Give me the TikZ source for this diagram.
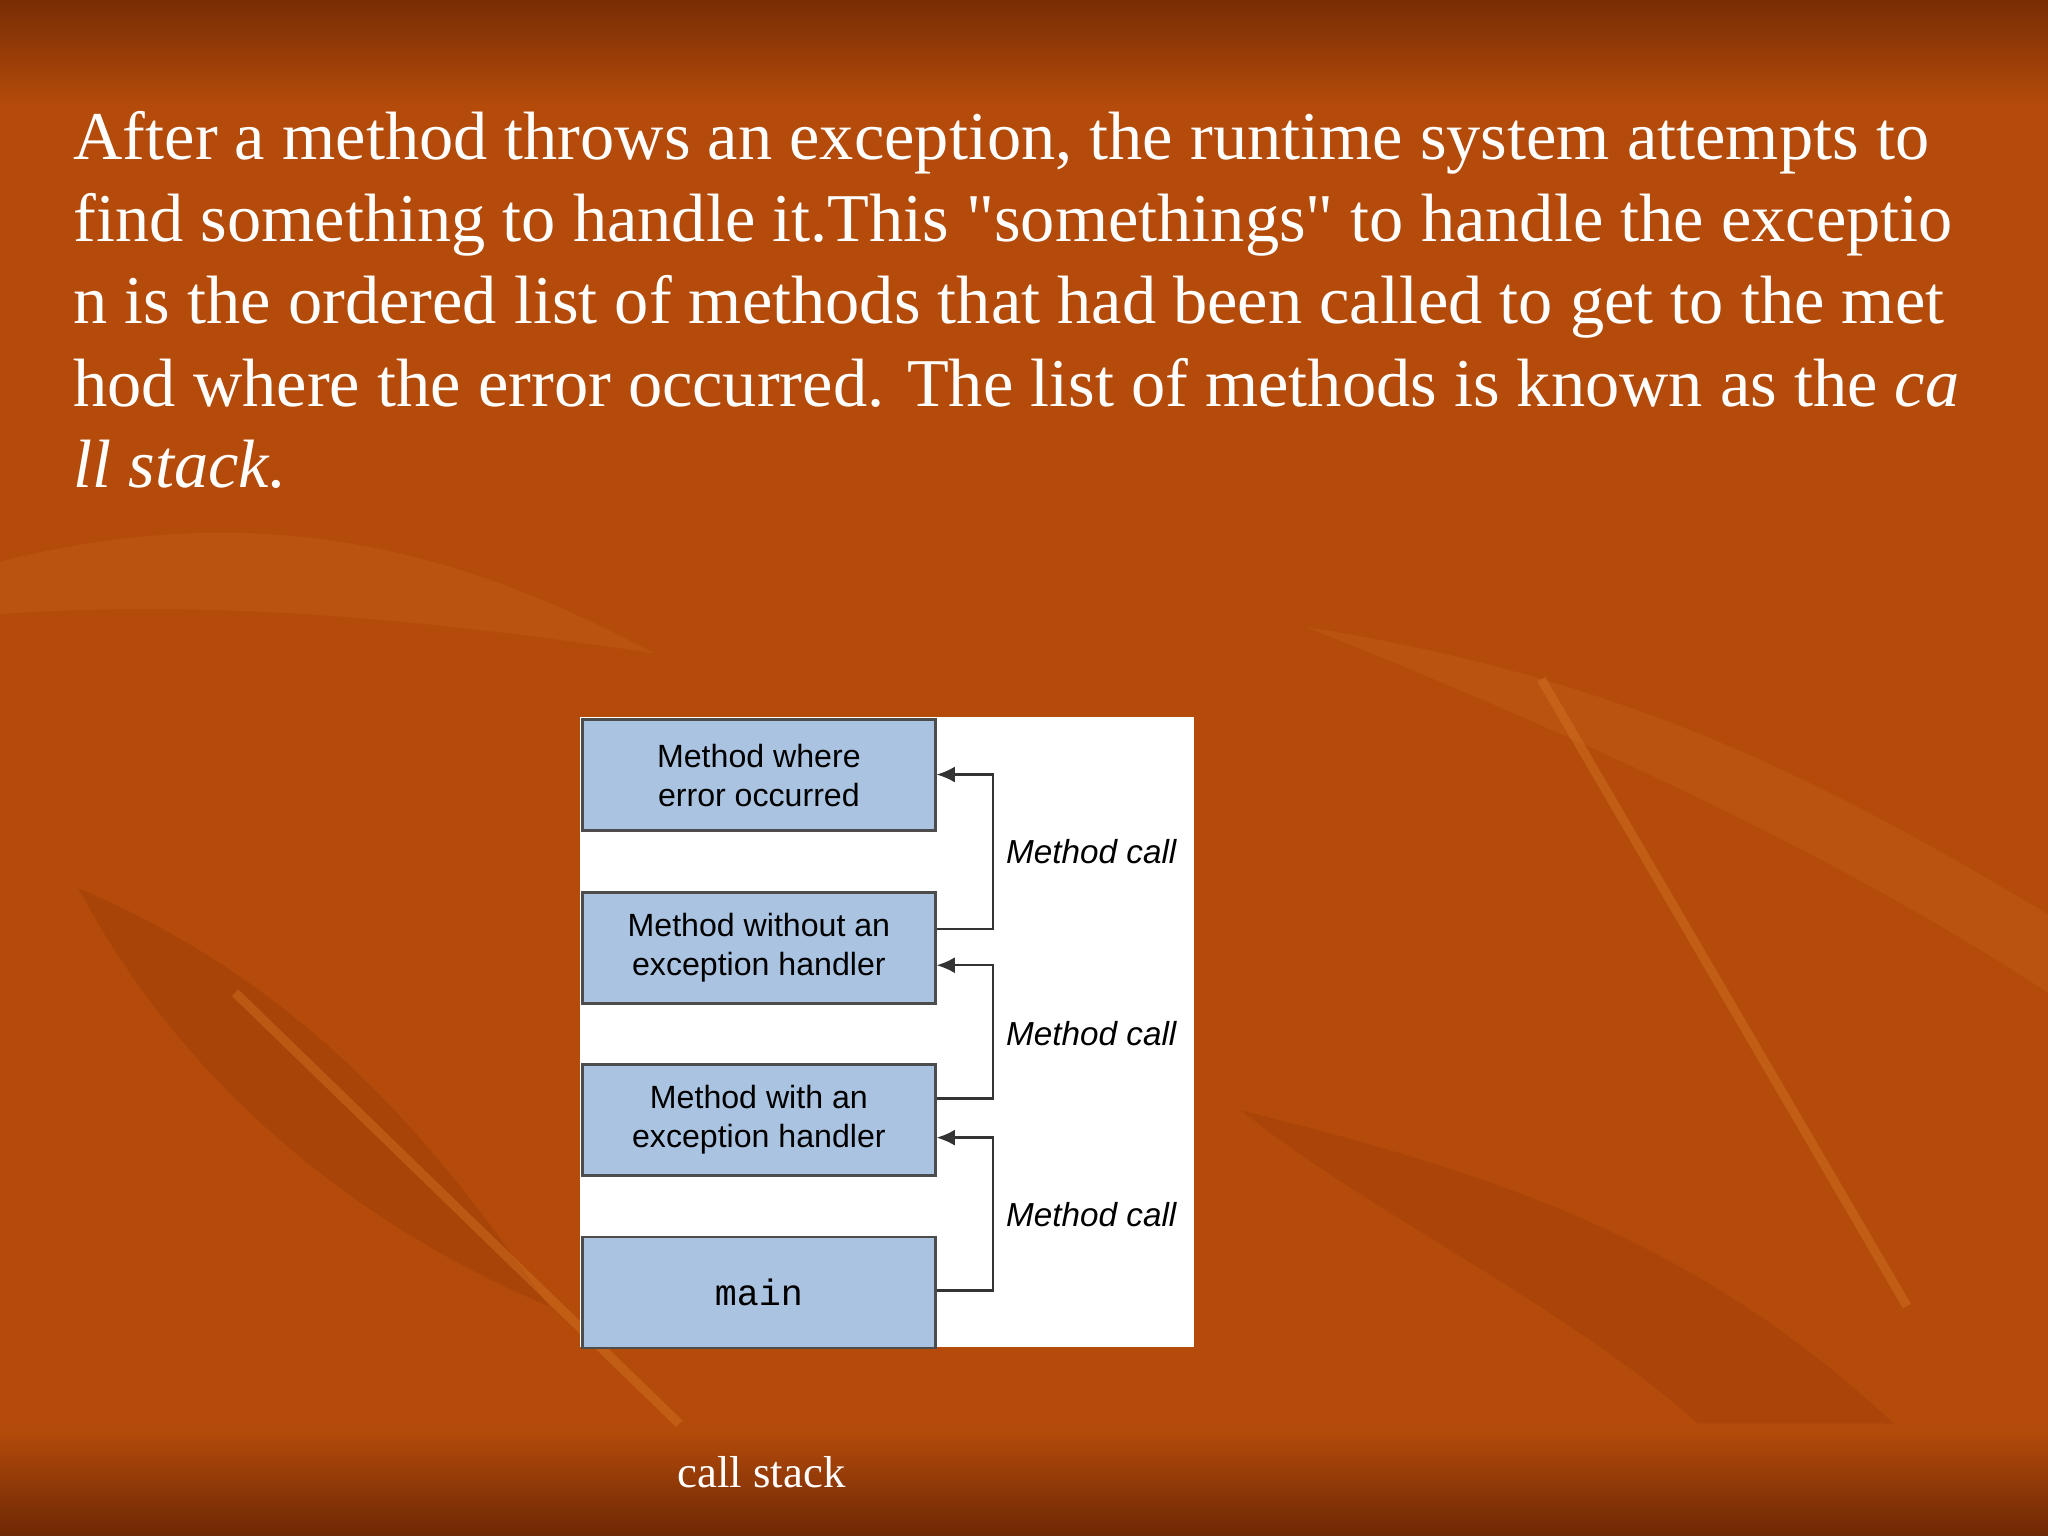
\documentclass[tikz,border=0pt]{standalone}
\usepackage{fontspec}
\usetikzlibrary{arrows.meta}
\setmainfont{Liberation Serif}[Ligatures=TeXOff]
\setsansfont{Liberation Sans}
\setmonofont{Liberation Mono}
\definecolor{topdark}{RGB}{120,45,5}
\definecolor{bgor}{RGB}{180,75,10}
\definecolor{botdark}{RGB}{110,40,5}
\definecolor{leafl}{RGB}{200,100,30}
\definecolor{leafd}{RGB}{150,55,5}
\definecolor{vein}{RGB}{215,120,40}
\definecolor{boxblue}{RGB}{170,195,225}
\begin{document}
\begin{tikzpicture}[x=0.02cm,y=-0.02cm,
  para/.style={anchor=base west,text=white,font=\fontsize{29.8}{34}\selectfont,inner sep=0},
  mbox/.style={draw=black!70,line width=1.2pt,fill=boxblue,minimum width=5.4cm,minimum height=1.7cm,anchor=north west,align=center,font=\sffamily\fontsize{14}{17}\selectfont,inner sep=0},
  carrow/.style={draw=black!80,line width=1pt,-{Latex[length=8pt,width=7pt]}},
  lbl/.style={anchor=west,font=\sffamily\itshape\fontsize{14.5}{16}\selectfont,inner sep=0}]
\useasboundingbox (0,0) rectangle (1568,1176);
\shade[top color=topdark,bottom color=bgor] (0,0) rectangle (1568,80);
\fill[bgor] (0,80) rectangle (1568,1095);
\shade[top color=bgor,bottom color=botdark] (0,1095) rectangle (1568,1176);
\fill[leafl,opacity=0.35] (0,430) .. controls (200,380) and (350,420) .. (500,500) .. controls (300,470) and (150,460) .. (0,470) -- cycle;
\fill[leafl,opacity=0.3] (1000,480) .. controls (1250,520) and (1400,600) .. (1568,700) -- (1568,760) .. controls (1400,650) and (1200,560) .. (1000,480) -- cycle;
\fill[leafd,opacity=0.35] (60,680) .. controls (250,760) and (350,900) .. (420,1000) .. controls (300,950) and (150,850) .. (60,680) -- cycle;
\fill[leafd,opacity=0.3] (950,850) .. controls (1150,900) and (1300,950) .. (1450,1090) -- (1300,1090) .. controls (1200,1000) and (1050,930) .. (950,850) -- cycle;
\draw[vein,opacity=0.4,line width=4pt] (180,760) -- (520,1090);
\draw[vein,opacity=0.4,line width=4pt] (1180,520) -- (1460,1000);
\node[para] (l1) at (56,122) {After a method throws an exception, the runtime system attempts to};
\node[para] (l2) at (56,185) {find something to handle it.This "somethings" to handle the exceptio};
\node[para] (l3) at (56,248) {n is the ordered list of methods that had been called to get to the met};
\node[para] (l4) at (56,311) {hod where the error occurred. The list of methods is known as the \textit{ca}};
\node[para] (l5) at (56,373) {\textit{ll stack.}};
\fill[white] (444,549) rectangle (914,1031);
\node[mbox] (b1) at (445,550) {Method where\\error occurred};
\node[mbox] (b2) at (445,682) {Method without an\\exception handler};
\node[mbox] (b3) at (445,814) {Method with an\\exception handler};
\node[mbox,font=\ttfamily\fontsize{16}{17}\selectfont] (b4) at (445,946) {main};
\coordinate (v) at (760,0);
\coordinate (s1) at (0,711); \coordinate (t1) at (0,593);
\coordinate (s2) at (0,841); \coordinate (t2) at (0,739);
\coordinate (s3) at (0,988); \coordinate (t3) at (0,871);
\draw[carrow] (b2.east |- s1) -- (v |- s1) -- (v |- t1) -- (b1.east |- t1);
\draw[carrow] (b3.east |- s2) -- (v |- s2) -- (v |- t2) -- (b2.east |- t2);
\draw[carrow] (b4.east |- s3) -- (v |- s3) -- (v |- t3) -- (b3.east |- t3);
\begin{scope}
\clip (444,549) rectangle (914,1031);
\node[lbl] (m1) at (770,652) {Method call};
\node[lbl] (m2) at (770,791) {Method call};
\node[lbl] (m3) at (770,930) {Method call};
\end{scope}
\node[text=white,font=\fontsize{19.5}{22}\selectfont] (cap) at (583,1127) {call stack};
\end{tikzpicture}
\end{document}
